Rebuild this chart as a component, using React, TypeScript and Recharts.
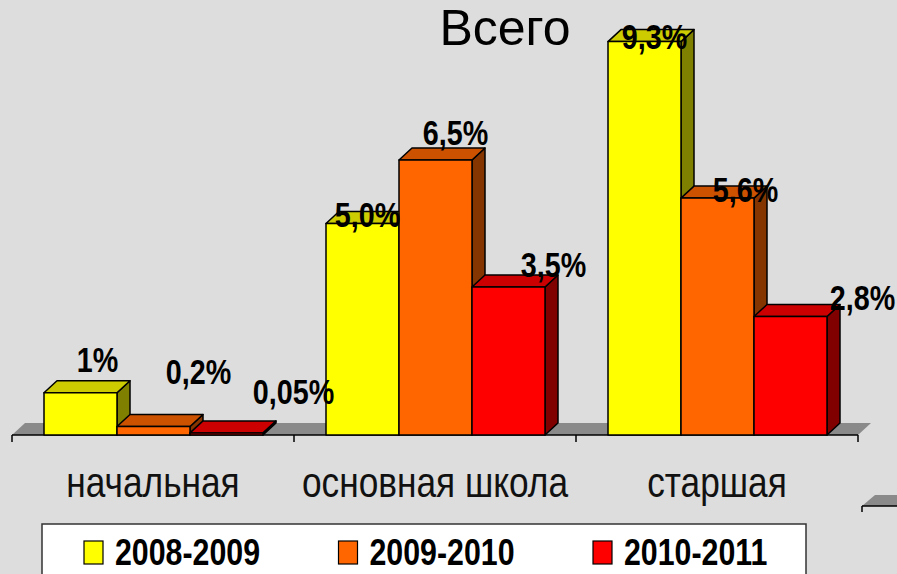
import React from 'react';
import { BarChart, Bar, XAxis, YAxis, LabelList } from 'recharts';

// ---- data ----
const CATEGORIES = ['начальная', 'основная школа', 'старшая'];
const SERIES_NAMES = ['2008-2009', '2009-2010', '2010-2011'];
const S2008 = [1, 5.0, 9.3];
const S2009 = [0.2, 6.5, 5.6];
const S2010 = [0.05, 3.5, 2.8];
const LABELS_2008 = ['1%', '5,0%', '9,3%'];
const LABELS_2009 = ['0,2%', '6,5%', '5,6%'];
const LABELS_2010 = ['0,05%', '3,5%', '2,8%'];
const TITLE = 'Всего';

// ---- styles ----
const W = 897;
const H = 574;
const BG = '#dddddd';
const SANS = '"Liberation Sans", Arial, sans-serif';
const NARROW_SCALE = 0.82;
const DX = 13;
const DY = 12;
const SERIES_STYLE = [
  { front: '#ffff00', top: '#cccc00', side: '#808000' },
  { front: '#ff6600', top: '#cc5200', side: '#853500' },
  { front: '#ff0000', top: '#cc0000', side: '#800000' },
];
// label nudges relative to bar top-center [series][category]
const LABEL_NUDGE = [
  [[17, -33], [5, -9], [10, -5]],
  [[45, -55], [20, -27], [28, -8]],
  [[67, -41], [45, -22], [72, -19]],
];
const MARGIN = { top: 12, right: 39, bottom: 0, left: 12 };
const X_AXIS_H = 139;

const data = CATEGORIES.map((name, i) => ({
  name,
  s0: S2008[i],
  s1: S2009[i],
  s2: S2010[i],
  l0: LABELS_2008[i],
  l1: LABELS_2009[i],
  l2: LABELS_2010[i],
}));

const NarrowText = ({ x, y, anchor = 'start', size, bold = false, fill = '#000', baseline, children }: any) => (
  <g transform={`translate(${x},${y}) scale(${NARROW_SCALE},1)`}>
    <text
      x={0}
      y={0}
      textAnchor={anchor}
      dominantBaseline={baseline}
      fontFamily={SANS}
      fontWeight={bold ? 'bold' : 'normal'}
      fontSize={size}
      fill={fill}
    >
      {children}
    </text>
  </g>
);

const makeShape = (si: number) => (p: any) => {
  const { x, y, width, height } = p;
  if (x == null || y == null) return <g />;
  const c = SERIES_STYLE[si];
  const h = Math.max(height, 0);
  const top = `${x},${y} ${x + DX},${y - DY} ${x + width + DX},${y - DY} ${x + width},${y}`;
  const side = `${x + width},${y} ${x + width + DX},${y - DY} ${x + width + DX},${y + h - DY} ${x + width},${y + h}`;
  return (
    <g stroke="#000" strokeWidth={1.5} strokeLinejoin="round">
      <polygon points={side} fill={c.side} />
      <polygon points={top} fill={c.top} />
      <rect x={x} y={y} width={width} height={h} fill={c.front} />
    </g>
  );
};

const makeLabel = (si: number) => (p: any) => {
  const { x, y, width, value, index } = p;
  if (x == null) return null;
  const [nx, ny] = LABEL_NUDGE[si][index] || [0, 0];
  return (
    <NarrowText x={x + width / 2 + nx} y={y + ny} anchor="middle" baseline="central" size={35} bold>
      {value}
    </NarrowText>
  );
};

const CatTick = (p: any) => {
  const { x, y, payload } = p;
  return (
    <NarrowText x={x} y={y + 62} anchor="middle" size={43} fill="#111">
      {payload.value}
    </NarrowText>
  );
};

export default function App() {
  const plotLeft = MARGIN.left;
  const plotRight = W - MARGIN.right;
  const plotBottom = H - MARGIN.bottom - X_AXIS_H;
  const catW = (plotRight - plotLeft) / CATEGORIES.length;
  const bounds = Array.from({ length: CATEGORIES.length + 1 }, (_, i) => plotLeft + catW * i);
  return (
    <div style={{ position: 'absolute', left: 0, top: 0, width: W, height: H, background: BG, overflow: 'hidden' }}>
      <svg width={W} height={H} style={{ position: 'absolute', left: 0, top: 0 }}>
        <text x={505} y={45} textAnchor="middle" fontFamily={SANS} fontSize={50} fill="#000">
          {TITLE}
        </text>
        <polygon
          points={`${plotLeft},${plotBottom} ${plotLeft + DX},${plotBottom - DY} ${plotRight + DX},${plotBottom - DY} ${plotRight},${plotBottom}`}
          fill="#8a8a8a"
        />
        <line x1={plotLeft} y1={plotBottom} x2={plotRight} y2={plotBottom} stroke="#000" strokeWidth={1.5} />
        {bounds.map((bx, i) => (
          <line key={i} x1={bx} y1={plotBottom} x2={bx} y2={plotBottom + 7} stroke="#000" strokeWidth={1.5} />
        ))}
        <polygon points={`862,506 875,495 ${W},495 ${W},506`} fill="#8a8a8a" />
        <line x1={862} y1={506} x2={W} y2={506} stroke="#000" strokeWidth={1.5} />
        <line x1={862} y1={506} x2={862} y2={512} stroke="#000" strokeWidth={1.5} />
        <rect x={42} y={524} width={764} height={70} fill="#fff" stroke="#333" strokeWidth={1.5} />
        {SERIES_NAMES.map((n, j) => {
          const sx = 84 + 254.5 * j;
          return (
            <g key={n}>
              <rect x={sx} y={541} width={19} height={23} fill={SERIES_STYLE[j].front} stroke="#000" strokeWidth={1.2} />
              <NarrowText x={sx + 31} y={565} size={37} bold>
                {n}
              </NarrowText>
            </g>
          );
        })}
      </svg>
      <div style={{ position: 'absolute', left: 0, top: 0 }}>
        <BarChart width={W} height={H} data={data} margin={MARGIN} barCategoryGap={32} barGap={0}>
          <YAxis hide domain={[0, 10]} type="number" />
          <XAxis
            dataKey="name"
            height={X_AXIS_H}
            axisLine={false}
            tickLine={false}
            tickSize={0}
            tickMargin={0}
            interval={0}
            tick={<CatTick />}
          />
          {[0, 1, 2].map((si) => (
            <Bar key={si} dataKey={`s${si}`} isAnimationActive={false} shape={makeShape(si)}>
              <LabelList dataKey={`l${si}`} content={makeLabel(si)} />
            </Bar>
          ))}
        </BarChart>
      </div>
    </div>
  );
}
